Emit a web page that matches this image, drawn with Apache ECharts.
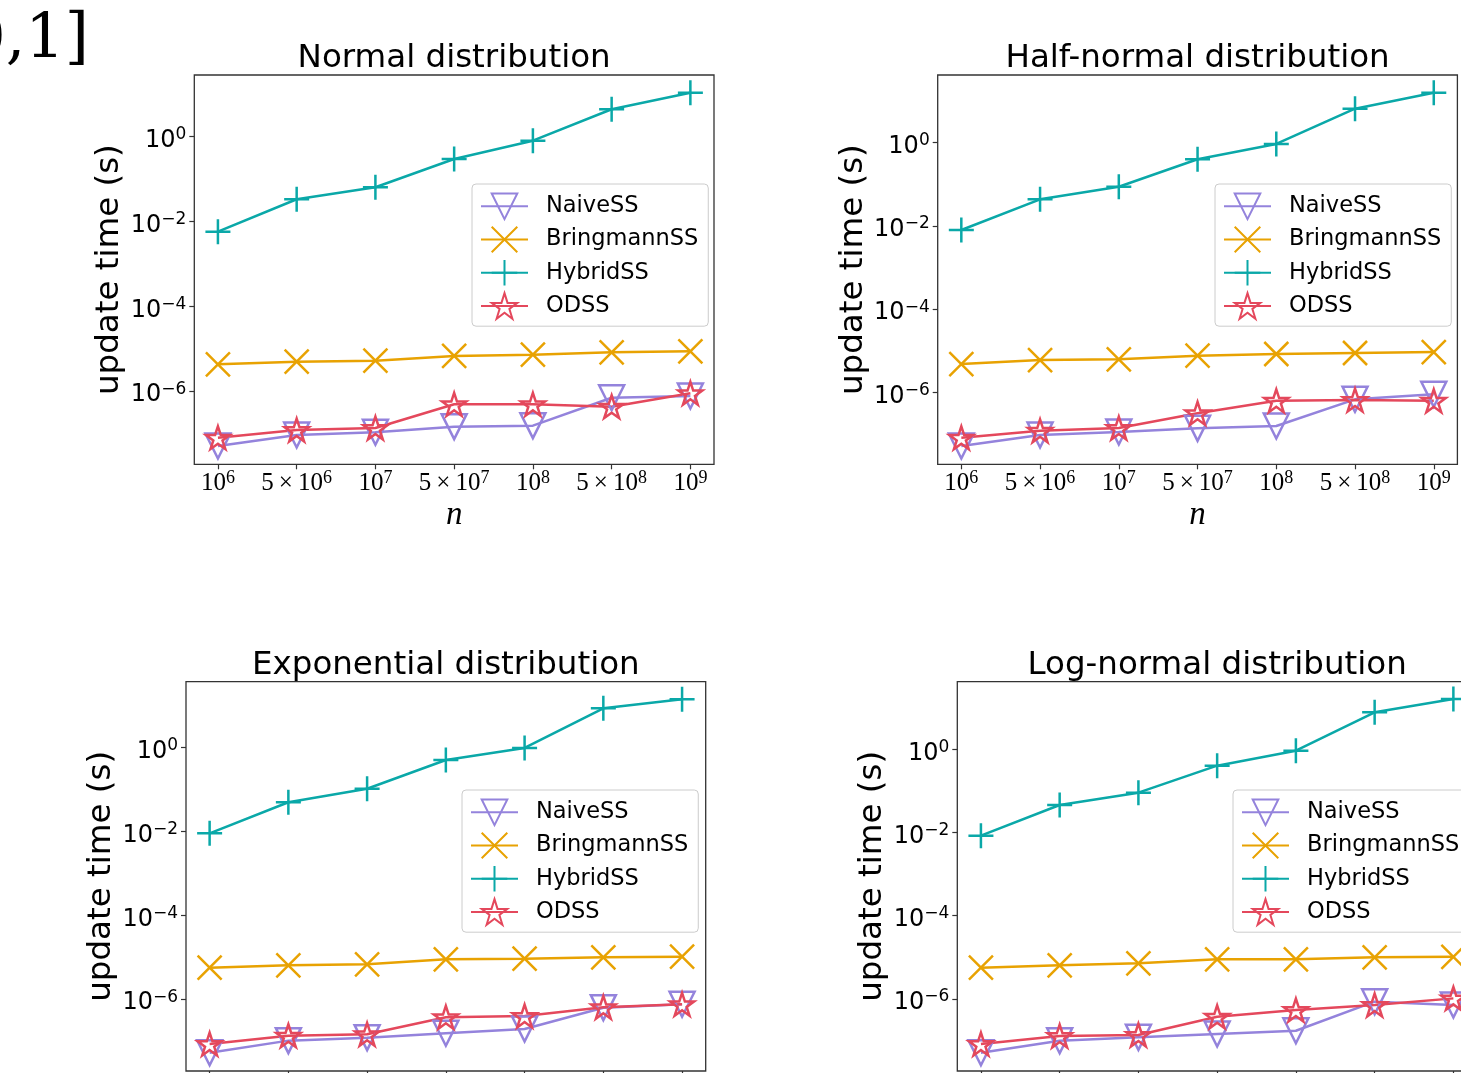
<!DOCTYPE html>
<html><head><meta charset="utf-8">
<script src="https://cdn.jsdelivr.net/npm/echarts@6/dist/echarts.min.js"></script>
<style>html,body{margin:0;padding:0;background:#fff}#c{width:1461px;height:1073px}</style>
</head><body><div id="c"></div>
<script>
// ---------- data (seconds) ----------
const nLabels = ['10^6', '5×10^6', '10^7', '5×10^7', '10^8', '5×10^8', '10^9'];
const yTickExponents = [-6, -4, -2, 0];
const seriesNames = ['NaiveSS', 'BringmannSS', 'HybridSS', 'ODSS'];
const panelTitles = ['Normal distribution', 'Half-normal distribution', 'Exponential distribution', 'Log-normal distribution'];

const normalNaive      = [5.07e-8, 9.23e-8, 1.07e-7, 1.45e-7, 1.53e-7, 6.98e-7, 7.66e-7];
const normalBringmann  = [4.29e-6, 4.93e-6, 5.21e-6, 6.73e-6, 7.21e-6, 8.22e-6, 8.69e-6];
const normalHybrid     = [5.75e-3, 0.0334, 0.0641, 0.298, 0.805, 4.43, 10.9];
const normalODSS       = [7.96e-8, 1.21e-7, 1.35e-7, 4.89e-7, 4.89e-7, 4.29e-7, 8.87e-7];

const halfNormalNaive     = [5.12e-8, 9.42e-8, 1.11e-7, 1.36e-7, 1.55e-7, 6.79e-7, 8.95e-7];
const halfNormalBringmann = [4.79e-6, 5.97e-6, 6.21e-6, 7.59e-6, 8.34e-6, 8.81e-6, 9.31e-6];
const halfNormalHybrid    = [7.96e-3, 0.0436, 0.0875, 0.399, 0.931, 6.56, 15.9];
const halfNormalODSS      = [8.11e-8, 1.19e-7, 1.39e-7, 3.13e-7, 6.28e-7, 6.53e-7, 6.28e-7];

const exponentialNaive     = [5.26e-8, 1.02e-7, 1.20e-7, 1.53e-7, 1.93e-7, 6.24e-7, 7.52e-7];
const exponentialBringmann = [5.62e-6, 6.41e-6, 6.76e-6, 8.91e-6, 9.20e-6, 9.95e-6, 1.03e-5];
const exponentialHybrid    = [9.06e-3, 0.0498, 0.105, 0.508, 0.984, 8.71, 14.3];
const exponentialODSS      = [8.47e-8, 1.34e-7, 1.45e-7, 3.68e-7, 3.95e-7, 6.37e-7, 7.52e-7];

const logNormalNaive     = [5.09e-8, 9.89e-8, 1.19e-7, 1.43e-7, 1.72e-7, 8.57e-7, 7.13e-7];
const logNormalBringmann = [5.62e-6, 6.43e-6, 7.18e-6, 8.95e-6, 8.95e-6, 1.00e-5, 1.03e-5];
const logNormalHybrid    = [8.38e-3, 0.0458, 0.0906, 0.404, 0.925, 7.74, 16.2];
const logNormalODSS      = [8.24e-8, 1.28e-7, 1.36e-7, 3.73e-7, 5.41e-7, 7.13e-7, 1.03e-6];

const panelData = [
  [normalNaive, normalBringmann, normalHybrid, normalODSS],
  [halfNormalNaive, halfNormalBringmann, halfNormalHybrid, halfNormalODSS],
  [exponentialNaive, exponentialBringmann, exponentialHybrid, exponentialODSS],
  [logNormalNaive, logNormalBringmann, logNormalHybrid, logNormalODSS]
];

// ---------- layout & style ----------
const W = 519.7, H = 389.3;
const layout = [
  {left: 194.3, top: 75,    ymin: -7.727, ymax: 1.455, legendLeft: 472,  legendTop: 184},
  {left: 937.7, top: 75,    ymin: -7.73,  ymax: 1.627, legendLeft: 1215, legendTop: 184},
  {left: 186,   top: 681.7, ymin: -7.716, ymax: 1.575, legendLeft: 462,  legendTop: 790},
  {left: 957.3, top: 681.7, ymin: -7.733, ymax: 1.625, legendLeft: 1233, legendTop: 790}
];

function starPath() {
  const pts = [];
  for (let k = 0; k < 10; k++) {
    const r = k % 2 === 0 ? 1 : 0.381966;
    const a = -Math.PI / 2 + k * Math.PI / 5;
    pts.push((r * Math.cos(a)).toFixed(4) + ',' + (r * Math.sin(a)).toFixed(4));
  }
  return 'path://M' + pts.join('L') + 'Z';
}
const styles = [
  {color: '#9483dc', symbol: 'triangle', rotate: 180, size: 25, keep: false},
  {color: '#e8a202', symbol: 'path://M-1,-1L1,1M-1,1L1,-1', rotate: 0, size: 24, keep: false},
  {color: '#0aa8a8', symbol: 'path://M0,-1L0,1M-1,0L1,0', rotate: 0, size: 25, keep: false},
  {color: '#e4485c', symbol: starPath(), rotate: 0, size: 24, keep: true}
];

const expStr = v => { const r = Math.round(v); return r === 0 ? '0' : '\u2212' + Math.abs(r); };

const grids = [], xAxes = [], yAxes = [], series = [], legends = [], graphics = [];
layout.forEach((L, i) => {
  grids.push({left: L.left, top: L.top, width: W, height: H, show: true,
    borderColor: '#333', borderWidth: 1.3, backgroundColor: 'transparent',
    containLabel: false, outerBoundsMode: 'none'});
  xAxes.push({
    type: 'value', gridIndex: i, min: -0.3, max: 6.3,
    splitLine: {show: false}, axisLine: {show: false, onZero: false},
    axisTick: {show: true, inside: false, length: 5, customValues: [0, 1, 2, 3, 4, 5, 6], lineStyle: {color: '#333', width: 1.2}},
    axisLabel: {
      customValues: [0, 1, 2, 3, 4, 5, 6], margin: 4.5, hideOverlap: false,
      formatter: v => {
        const parts = nLabels[Math.round(v)].split('^');
        return '{b|' + parts[0].replace('×', '\u2009×\u2009') + '}{s|' + parts[1] + '}';
      },
      rich: {
        b: {fontSize: 25, fontFamily: 'Liberation Serif', color: '#000'},
        s: {fontSize: 18, fontFamily: 'Liberation Serif', color: '#000', padding: [0, 0, 12, 0]}
      }
    },
    name: 'n', nameLocation: 'middle', nameGap: 35,
    nameTextStyle: {fontSize: 33, fontFamily: 'Liberation Serif', fontStyle: 'italic', color: '#000'}
  });
  yAxes.push({
    type: 'value', gridIndex: i, min: L.ymin, max: L.ymax,
    splitLine: {show: false}, axisLine: {show: false, onZero: false},
    axisTick: {show: true, inside: false, length: 5, customValues: yTickExponents, lineStyle: {color: '#333', width: 1.2}},
    axisLabel: {
      customValues: yTickExponents, margin: 8, padding: [8, 0, 0, 0],
      formatter: v => '{b|10}{s|' + expStr(v) + '}',
      rich: {
        b: {fontSize: 24, fontFamily: 'DejaVu Sans', color: '#000'},
        s: {fontSize: 17, fontFamily: 'DejaVu Sans', color: '#000', padding: [0, 0, 12, 0]}
      }
    },
    name: 'update time (s)', nameLocation: 'middle', nameGap: 68,
    nameTextStyle: {fontSize: 32.5, fontFamily: 'DejaVu Sans', color: '#000'}
  });
  panelData[i].forEach((vals, j) => {
    const s = styles[j];
    series.push({
      type: 'line', name: seriesNames[j], xAxisIndex: i, yAxisIndex: i,
      data: vals.map((v, k) => [k, Math.log10(v)]),
      symbol: s.symbol, symbolSize: s.size, symbolRotate: s.rotate, symbolKeepAspect: s.keep,
      showAllSymbol: true, clip: false,
      lineStyle: {color: s.color, width: 2.5},
      itemStyle: {color: 'none', borderColor: s.color, borderWidth: 2.5},
      emphasis: {disabled: true}
    });
  });
  legends.push({
    left: L.legendLeft, top: L.legendTop, orient: 'vertical',
    itemWidth: 47, itemHeight: 32, itemGap: 2.6,
    padding: [7, 10, 5, 8],
    backgroundColor: 'rgba(255,255,255,0.8)', borderColor: '#cccccc', borderWidth: 1, borderRadius: 4,
    textStyle: {fontFamily: 'DejaVu Sans', fontSize: 22.5, color: '#000', padding: [0, 0, 0, 13]},
    data: seriesNames, selectedMode: false
  });
  graphics.push({
    type: 'text', x: L.left + W / 2, y: L.top - 16,
    style: {text: panelTitles[i], fontSize: 32.5, fontFamily: 'DejaVu Sans', fill: '#000',
      align: 'center', verticalAlign: 'middle', textAlign: 'center', textVerticalAlign: 'middle'}
  });
});
graphics.push({
  type: 'text', x: 89, y: 41,
  style: {text: '0,1]', fontSize: 62, fontFamily: 'DejaVu Serif', fill: '#000',
    align: 'right', verticalAlign: 'middle', textAlign: 'right', textVerticalAlign: 'middle'}
});

const chart = echarts.init(document.getElementById('c'), null, {renderer: 'canvas'});
chart.setOption({
  backgroundColor: '#fff', animation: false,
  grid: grids, xAxis: xAxes, yAxis: yAxes, series: series, legend: legends, graphic: graphics
});
</script></body></html>
